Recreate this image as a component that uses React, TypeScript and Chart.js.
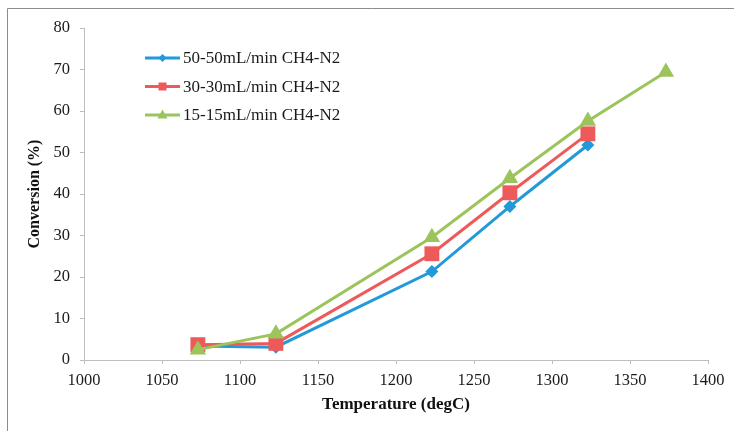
import React, { useEffect, useRef } from "react";
import { Chart, registerables } from "chart.js";

Chart.register(...registerables);

const temperatures = [1073, 1123, 1223, 1273, 1323, 1373];
const series50 = [3.4, 3.1, 21.3, 37.0, 51.8];
const series30 = [3.7, 4.0, 25.6, 40.3, 54.5];
const series15 = [2.5, 6.3, 29.6, 43.8, 57.6, 69.4];
const seriesNames = ["50-50mL/min CH4-N2", "30-30mL/min CH4-N2", "15-15mL/min CH4-N2"];
const xTitle = "Temperature (degC)";
const yTitle = "Conversion (%)";

const BLUE = "#2299d8";
const RED = "#ee5a5a";
const GREEN = "#9bc45a";
const FONT = "'Liberation Serif', 'Times New Roman', serif";

function toPoints(vals: number[]) {
  return vals.map((v, i) => ({ x: temperatures[i], y: v }));
}

function drawMarker(ctx: CanvasRenderingContext2D, kind: string, x: number, y: number, r: number, color: string) {
  ctx.save();
  ctx.fillStyle = color;
  ctx.beginPath();
  if (kind === "diamond") {
    ctx.moveTo(x, y - r);
    ctx.lineTo(x + r, y);
    ctx.lineTo(x, y + r);
    ctx.lineTo(x - r, y);
  } else if (kind === "square") {
    ctx.rect(x - r, y - r, 2 * r, 2 * r);
  } else {
    ctx.moveTo(x, y - r * 1.1);
    ctx.lineTo(x + r, y + r * 0.7);
    ctx.lineTo(x - r, y + r * 0.7);
  }
  ctx.closePath();
  ctx.fill();
  ctx.restore();
}

const frameAndLegend = {
  id: "frameAndLegend",
  beforeDraw(chart: any) {
    const ctx = chart.ctx as CanvasRenderingContext2D;
    ctx.save();
    ctx.strokeStyle = "#8c8c8c";
    ctx.lineWidth = 1;
    ctx.beginPath();
    ctx.moveTo(7.5, 440);
    ctx.lineTo(7.5, 8.5);
    ctx.lineTo(740, 8.5);
    ctx.stroke();
    ctx.restore();
  },
  afterDraw(chart: any) {
    const ctx = chart.ctx as CanvasRenderingContext2D;
    const colors = [BLUE, RED, GREEN];
    const kinds = ["diamond", "square", "triangle"];
    const sizes = [4, 4, 5];
    ctx.save();
    for (let i = 0; i < 3; i++) {
      const y = 58 + i * 28.5;
      ctx.strokeStyle = colors[i];
      ctx.lineWidth = 3;
      ctx.beginPath();
      ctx.moveTo(145, y);
      ctx.lineTo(180, y);
      ctx.stroke();
      drawMarker(ctx, kinds[i], 162.5, y, sizes[i], colors[i]);
      ctx.fillStyle = "#1a1a1a";
      ctx.font = `17px ${FONT}`;
      ctx.textBaseline = "middle";
      ctx.textAlign = "left";
      ctx.fillText(seriesNames[i], 183, y + 1);
    }
    ctx.restore();
  },
};

export default function App() {
  const ref = useRef<HTMLCanvasElement | null>(null);
  useEffect(() => {
    if (!ref.current) return;
    const chart = new Chart(ref.current, {
      type: "scatter",
      data: {
        datasets: [
          {
            label: seriesNames[0],
            data: toPoints(series50),
            showLine: true,
            borderColor: BLUE,
            backgroundColor: BLUE,
            borderWidth: 3,
            pointStyle: "rectRot",
            pointRadius: 6.5,
            pointBorderWidth: 0,
            order: 2,
          },
          {
            label: seriesNames[1],
            data: toPoints(series30),
            showLine: true,
            borderColor: RED,
            backgroundColor: RED,
            borderWidth: 3,
            pointStyle: "rect",
            pointRadius: 10.5,
            pointBorderWidth: 0,
            order: 1,
          },
          {
            label: seriesNames[2],
            data: toPoints(series15),
            showLine: true,
            borderColor: GREEN,
            backgroundColor: GREEN,
            borderWidth: 3,
            pointStyle: "triangle",
            pointRadius: 9.5,
            pointBorderWidth: 0,
            order: 0,
          },
        ],
      },
      options: {
        responsive: false,
        animation: false,
        layout: { padding: { left: 0, right: 26, top: 28, bottom: 0 } },
        plugins: {
          legend: { display: false },
          tooltip: { enabled: false },
        },
        scales: {
          x: {
            type: "linear",
            min: 1000,
            max: 1400,
            ticks: {
              stepSize: 50,
              color: "#1a1a1a",
              font: { family: FONT, size: 16.5 },
              padding: 7,
              maxRotation: 0,
              autoSkip: false,
              callback: (v: any) => String(v),
            },
            grid: { drawOnChartArea: false, drawTicks: true, tickLength: 4, color: "#bdbdbd" },
            border: { color: "#bdbdbd" },
            title: {
              display: true,
              text: xTitle,
              color: "#111",
              font: { family: FONT, size: 17, weight: "bold" },
              padding: { top: 0, bottom: 16 },
            },
            afterFit: (scale: any) => {
              scale.height = 71;
            },
          },
          y: {
            type: "linear",
            min: 0,
            max: 80,
            ticks: {
              stepSize: 10,
              color: "#1a1a1a",
              font: { family: FONT, size: 16.5 },
              padding: 10,
              callback: (v: any) => String(v),
            },
            grid: { drawOnChartArea: false, drawTicks: true, tickLength: 4, color: "#bdbdbd" },
            border: { color: "#bdbdbd" },
            title: {
              display: true,
              text: yTitle,
              color: "#111",
              font: { family: FONT, size: 16, weight: "bold" },
              padding: { top: 25, bottom: 0 },
            },
            afterFit: (scale: any) => {
              scale.width = 84;
            },
          },
        },
      },
      plugins: [frameAndLegend],
    } as any);
    return () => chart.destroy();
  }, []);
  return (
    <div style={{ position: "fixed", left: 0, top: 0, width: 734, height: 431, background: "#fff" }}>
      <canvas ref={ref} width={734} height={431} style={{ display: "block" }} />
    </div>
  );
}
